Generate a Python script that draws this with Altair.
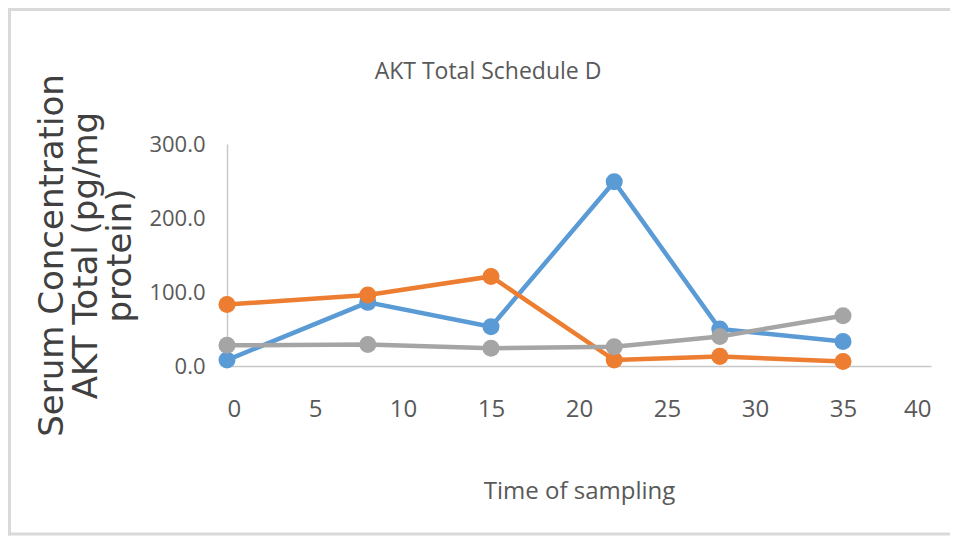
import altair as alt
import pandas as pd

# ---- data ----
time_points = [0, 8, 15, 22, 28, 35]
series_names = ["Series1", "Series2", "Series3"]
series1 = [8, 86, 53, 249, 50, 33]      # blue
series2 = [83, 96, 121, 8, 13, 6]       # orange
series3 = [28, 29, 24, 26, 40, 68]      # gray
series_colors = ["#5B9BD5", "#ED7D31", "#A5A5A5"]
x_ticks = [0, 5, 10, 15, 20, 25, 30, 35, 40]
y_ticks = [0, 100, 200, 300]

rows = []
for name, vals in zip(series_names, [series1, series2, series3]):
    for t, v in zip(time_points, vals):
        rows.append({"time": t, "value": v, "series": name})
df = pd.DataFrame(rows)

FONT = "Open Sans"
TEXT_COLOR = "#595959"

x_enc = alt.X(
    "time:Q",
    scale=alt.Scale(domain=[0, 40], nice=False, zero=False),
    axis=alt.Axis(
        values=x_ticks, title="Time of sampling", grid=False, ticks=False,
        labelPadding=31, labelFont=FONT, labelFontSize=24, labelColor=TEXT_COLOR,
        titleFont=FONT, titleFontSize=24, titleColor=TEXT_COLOR,
        titleFontWeight="normal", titleY=132, titleBaseline="alphabetic",
        domainColor="#c8c8c8", domainWidth=1.5,
    ),
)
y_enc = alt.Y(
    "value:Q",
    scale=alt.Scale(domain=[0, 300], nice=False),
    axis=alt.Axis(
        values=y_ticks, format=".1f", grid=False, ticks=False,
        labelPadding=22, labelFont=FONT, labelFontSize=22, labelColor=TEXT_COLOR,
        title=["Serum Concentration", "AKT Total (pg/mg", "protein)"],
        titleFont="DejaVu Sans", titleFontSize=34, titleColor="#404040",
        titleFontWeight="normal", titleLineHeight=34,
        titleX=-165, titleY=111, titleAngle=-90, titleBaseline="alphabetic",
        titleAlign="center",
        domainColor="#c8c8c8", domainWidth=1.5,
    ),
)
color_enc = alt.Color(
    "series:N",
    scale=alt.Scale(domain=series_names, range=series_colors),
    legend=None,
)

base = alt.Chart(df).encode(x=x_enc, y=y_enc, color=color_enc)
lines = base.mark_line(strokeWidth=4.5)
points = base.mark_point(filled=True, size=290, opacity=1)

frame_src = alt.Data(values=[{"k": 1}])
BORDER = "#d9d9d9"
top_rule = alt.Chart(frame_src).mark_rule(color=BORDER, strokeWidth=3).encode(
    x=alt.value(-219), x2=alt.value(723), y=alt.value(-134.5)
)
left_rule = alt.Chart(frame_src).mark_rule(color=BORDER, strokeWidth=3).encode(
    x=alt.value(-217.5), y=alt.value(-136), y2=alt.value(391.5)
)
bottom_rule = alt.Chart(frame_src).mark_rule(color=BORDER, strokeWidth=3).encode(
    x=alt.value(-219), x2=alt.value(723), y=alt.value(390)
)

chart = alt.layer(top_rule, left_rule, bottom_rule, lines, points).properties(
    width=704,
    height=222,
    autosize=alt.AutoSizeParams(type="none"),
    padding={"left": 219, "top": 136, "right": 19, "bottom": 170},
    title=alt.TitleParams(
        "AKT Total Schedule D", frame="group", anchor="middle",
        baseline="alphabetic", offset=0, dy=95, dx=-91,
        font=FONT, fontSize=23, fontWeight="normal", color=TEXT_COLOR,
    ),
).configure_view(stroke=None)

chart.save("out.html", embed_options={"renderer": "svg", "actions": False})
